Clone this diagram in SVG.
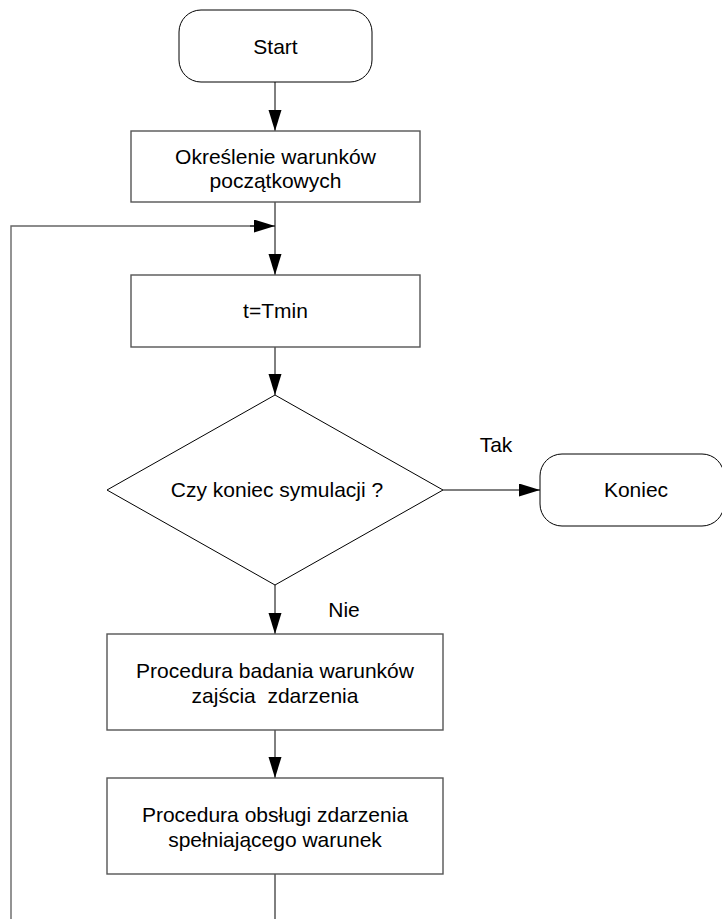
<svg xmlns="http://www.w3.org/2000/svg" width="722" height="919" viewBox="0 0 722 919">
  <style>
    .term { fill: #fff; stroke: #000; stroke-width: 1; }
    .proc { fill: #fff; stroke: #555; stroke-width: 1.4; }
    .dec { fill: #fff; stroke: #000; stroke-width: 1; }
    .lbl { font-family: "Liberation Sans", Arial, sans-serif; font-size: 21px; fill: #000; text-anchor: middle; white-space: pre; }
    .flow { fill: none; stroke: #000; stroke-width: 1; }
    .back { fill: none; stroke: #666; stroke-width: 1.4; }
  </style>
  <defs>
    <marker id="arrow" markerUnits="userSpaceOnUse" markerWidth="22" markerHeight="14" refX="21" refY="6.5" orient="auto">
      <path d="M0,0 L21,6.5 L0,13 z" fill="#000"/>
    </marker>
  </defs>

  <!-- connectors -->
  <g id="connectors">
    <line class="flow" x1="275" y1="82" x2="275" y2="131" marker-end="url(#arrow)"/>
    <line class="flow" x1="275" y1="202" x2="275" y2="275" marker-end="url(#arrow)"/>
    <polyline class="back" points="11,919 11,226 255,226"/>
    <line class="flow" x1="250" y1="226" x2="275" y2="226" marker-end="url(#arrow)"/>
    <line class="flow" x1="275" y1="347" x2="275" y2="395" marker-end="url(#arrow)"/>
    <line class="flow" x1="443" y1="490" x2="540" y2="490" marker-end="url(#arrow)"/>
    <line class="flow" x1="275" y1="585" x2="275" y2="634" marker-end="url(#arrow)"/>
    <line class="flow" x1="275" y1="730" x2="275" y2="778" marker-end="url(#arrow)"/>
    <line class="flow" x1="275" y1="874" x2="275" y2="919"/>
    <text class="lbl" x="496" y="452">Tak</text>
    <text class="lbl" x="344" y="617">Nie</text>
  </g>

  <g id="start">
    <rect class="term" x="179" y="10" width="193" height="72" rx="22" ry="22"/>
    <text class="lbl" x="275.5" y="54">Start</text>
  </g>

  <g id="init">
    <rect class="proc" x="131" y="131" width="289" height="71"/>
    <text class="lbl" x="275.5" y="164">Określenie warunków</text>
    <text class="lbl" x="275.5" y="188">początkowych</text>
  </g>

  <g id="tmin">
    <rect class="proc" x="131" y="275" width="289" height="72"/>
    <text class="lbl" x="275.5" y="318">t=Tmin</text>
  </g>

  <g id="decision">
    <polygon class="dec" points="275,395 443,490 275,585 107,490"/>
    <text class="lbl" x="277" y="497">Czy koniec symulacji ?</text>
  </g>

  <g id="end">
    <rect class="term" x="540" y="454" width="184" height="72" rx="22" ry="22"/>
    <text class="lbl" x="636" y="497">Koniec</text>
  </g>

  <g id="check">
    <rect class="proc" x="107" y="634" width="336" height="96"/>
    <text class="lbl" x="275" y="678">Procedura badania warunków</text>
    <text class="lbl" x="275" y="703">zajścia  zdarzenia</text>
  </g>

  <g id="handle">
    <rect class="proc" x="107" y="778" width="336" height="96"/>
    <text class="lbl" x="275" y="822">Procedura obsługi zdarzenia</text>
    <text class="lbl" x="275" y="847">spełniającego warunek</text>
  </g>
</svg>
